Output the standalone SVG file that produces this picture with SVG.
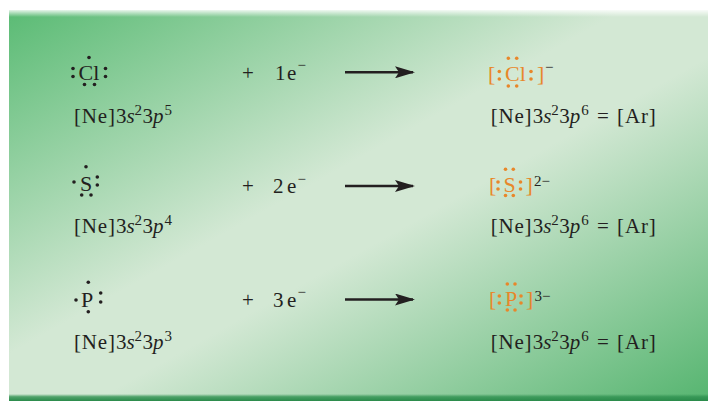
<svg xmlns="http://www.w3.org/2000/svg" width="708" height="402" viewBox="0 0 708 402">
<defs>
<linearGradient id="bg" x1="0" y1="0" x2="1" y2="1">
<stop offset="0" stop-color="#5abb74"/>
<stop offset="0.44" stop-color="#d3e8d4"/>
<stop offset="0.56" stop-color="#d3e8d4"/>
<stop offset="1" stop-color="#56b570"/>
</linearGradient>
<linearGradient id="topbev" x1="0" y1="0" x2="0" y2="1">
<stop offset="0" stop-color="#ffffff" stop-opacity="0.85"/>
<stop offset="1" stop-color="#ffffff" stop-opacity="0"/>
</linearGradient>
<linearGradient id="botbev" x1="0" y1="0" x2="0" y2="1">
<stop offset="0" stop-color="#2f9150" stop-opacity="0"/>
<stop offset="0.4" stop-color="#2f9150" stop-opacity="0.8"/>
<stop offset="1" stop-color="#2a8a4a" stop-opacity="1"/>
</linearGradient>
<marker id="ah" viewBox="0 0 20 12" refX="18" refY="6" markerWidth="20" markerHeight="12" markerUnits="userSpaceOnUse" orient="auto">
<path d="M0,0 L20,6 L0,12 L4,6 Z" fill="#231f20"/>
</marker>
</defs>
<style>
.t { font-family: "Liberation Serif", "Times New Roman", serif; font-size: 21px; fill: #231f20; }
.big { font-size: 22px; }
.i { font-style: italic; }
.sup { font-size: 15px; }
.ls { letter-spacing: 0.8px; }
.la { letter-spacing: 0.9px; }
.o { fill: #e8872a; }
.d { fill: #231f20; }
.od { fill: #e8872a; }
.arrow { stroke: #231f20; stroke-width: 2.4; fill: none; }
</style>

<rect x="9" y="10" width="699" height="391" fill="url(#bg)"/>
<rect x="9" y="10" width="699" height="7" fill="url(#topbev)"/>
<rect x="9" y="394" width="699" height="7" fill="url(#botbev)"/>

<!-- Row 1: Cl -->
<g id="cl-atom">
<text class="t big" x="78.5" y="79.5">Cl</text>
<circle class="d" cx="89" cy="57.5" r="1.8"/>
<circle class="d" cx="73" cy="68.5" r="1.8"/>
<circle class="d" cx="73" cy="76.5" r="1.8"/>
<circle class="d" cx="105.5" cy="68.5" r="1.8"/>
<circle class="d" cx="105.5" cy="76.5" r="1.8"/>
<circle class="d" cx="84.5" cy="84.5" r="1.8"/>
<circle class="d" cx="94.5" cy="84.5" r="1.8"/>
</g>
<g id="cl-config">
<text class="t" x="74" y="122.5"><tspan class="ls">[Ne]</tspan><tspan x="116">3</tspan><tspan class="i" x="126.5">s</tspan><tspan class="sup" x="134.5" y="115">2</tspan><tspan x="142.5" y="122.5">3</tspan><tspan class="i" x="153">p</tspan><tspan class="sup" x="164.5" y="115">5</tspan></text>
</g>
<g id="cl-electrons">
<text class="t" x="242" y="79.5">+ <tspan x="275">1</tspan><tspan x="287">e</tspan><tspan class="sup" x="297.5" y="70">−</tspan></text>
</g>
<g id="cl-ion">
<text class="t big o" x="488" y="81">[<tspan x="505">Cl</tspan><tspan x="537">]</tspan></text>
<circle class="od" cx="499.3" cy="71.5" r="1.8"/>
<circle class="od" cx="499.3" cy="79" r="1.8"/>
<circle class="od" cx="508.3" cy="58.3" r="1.8"/>
<circle class="od" cx="516.7" cy="58.3" r="1.8"/>
<circle class="od" cx="508.3" cy="86" r="1.8"/>
<circle class="od" cx="516.7" cy="86" r="1.8"/>
<circle class="od" cx="531" cy="71.5" r="1.8"/>
<circle class="od" cx="531" cy="79" r="1.8"/>
<text class="t sup" x="545" y="72">−</text>
</g>
<g id="cl-ion-config">
<text class="t" x="490.7" y="122.5"><tspan class="ls">[Ne]</tspan><tspan x="532.7">3</tspan><tspan class="i" x="543.2">s</tspan><tspan class="sup" x="551.2" y="115">2</tspan><tspan x="559.2" y="122.5">3</tspan><tspan class="i" x="569.7">p</tspan><tspan class="sup" x="581.2" y="115">6</tspan><tspan x="597" y="122.5">=</tspan><tspan class="la" x="617">[Ar]</tspan></text>
</g>

<!-- Row 2: S -->
<g id="s-atom">
<text class="t big" x="80" y="190.5">S</text>
<circle class="d" cx="86" cy="166.7" r="1.8"/>
<circle class="d" cx="74" cy="182" r="1.8"/>
<circle class="d" cx="97.3" cy="177" r="1.8"/>
<circle class="d" cx="97.3" cy="185" r="1.8"/>
<circle class="d" cx="81.7" cy="195" r="1.8"/>
<circle class="d" cx="91" cy="195" r="1.8"/>
</g>
<g id="s-config">
<text class="t" x="74" y="232.5"><tspan class="ls">[Ne]</tspan><tspan x="116">3</tspan><tspan class="i" x="126.5">s</tspan><tspan class="sup" x="134.5" y="225">2</tspan><tspan x="142.5" y="232.5">3</tspan><tspan class="i" x="153">p</tspan><tspan class="sup" x="164.5" y="225">4</tspan></text>
</g>
<g id="s-electrons">
<text class="t" x="242" y="193">+ <tspan x="273">2</tspan><tspan x="287">e</tspan><tspan class="sup" x="297.5" y="183.5">−</tspan></text>
</g>
<g id="s-ion">
<text class="t big o" x="489" y="191.5">[<tspan x="503.5">S</tspan><tspan x="525.5">]</tspan></text>
<circle class="od" cx="498" cy="182" r="1.8"/>
<circle class="od" cx="498" cy="189" r="1.8"/>
<circle class="od" cx="505.5" cy="169.3" r="1.8"/>
<circle class="od" cx="513.3" cy="169.3" r="1.8"/>
<circle class="od" cx="505.5" cy="195.5" r="1.8"/>
<circle class="od" cx="513.3" cy="195.5" r="1.8"/>
<circle class="od" cx="520.5" cy="182" r="1.8"/>
<circle class="od" cx="520.5" cy="189" r="1.8"/>
<text class="t sup" x="534" y="185.5">2−</text>
</g>
<g id="s-ion-config">
<text class="t" x="490.7" y="232.5"><tspan class="ls">[Ne]</tspan><tspan x="532.7">3</tspan><tspan class="i" x="543.2">s</tspan><tspan class="sup" x="551.2" y="225">2</tspan><tspan x="559.2" y="232.5">3</tspan><tspan class="i" x="569.7">p</tspan><tspan class="sup" x="581.2" y="225">6</tspan><tspan x="597" y="232.5">=</tspan><tspan class="la" x="617">[Ar]</tspan></text>
</g>

<!-- Row 3: P -->
<g id="p-atom">
<text class="t big" x="81" y="307">P</text>
<circle class="d" cx="88.3" cy="282.3" r="1.8"/>
<circle class="d" cx="76" cy="300" r="1.8"/>
<circle class="d" cx="100.7" cy="293" r="1.8"/>
<circle class="d" cx="100.7" cy="302" r="1.8"/>
<circle class="d" cx="88.3" cy="311.7" r="1.8"/>
</g>
<g id="p-config">
<text class="t" x="74" y="348.5"><tspan class="ls">[Ne]</tspan><tspan x="116">3</tspan><tspan class="i" x="126.5">s</tspan><tspan class="sup" x="134.5" y="341">2</tspan><tspan x="142.5" y="348.5">3</tspan><tspan class="i" x="153">p</tspan><tspan class="sup" x="164.5" y="341">3</tspan></text>
</g>
<g id="p-electrons">
<text class="t" x="242" y="306.5">+ <tspan x="273">3</tspan><tspan x="287">e</tspan><tspan class="sup" x="297.5" y="297">−</tspan></text>
</g>
<g id="p-ion">
<text class="t big o" x="489" y="306">[<tspan x="505">P</tspan><tspan x="526">]</tspan></text>
<circle class="od" cx="499.3" cy="296" r="1.8"/>
<circle class="od" cx="499.3" cy="303" r="1.8"/>
<circle class="od" cx="507.3" cy="284" r="1.8"/>
<circle class="od" cx="515" cy="284" r="1.8"/>
<circle class="od" cx="507.3" cy="310" r="1.8"/>
<circle class="od" cx="515" cy="310" r="1.8"/>
<circle class="od" cx="521" cy="296" r="1.8"/>
<circle class="od" cx="521" cy="303" r="1.8"/>
<text class="t sup" x="534.5" y="300.5">3−</text>
</g>
<g id="p-ion-config">
<text class="t" x="490.7" y="348.5"><tspan class="ls">[Ne]</tspan><tspan x="532.7">3</tspan><tspan class="i" x="543.2">s</tspan><tspan class="sup" x="551.2" y="341">2</tspan><tspan x="559.2" y="348.5">3</tspan><tspan class="i" x="569.7">p</tspan><tspan class="sup" x="581.2" y="341">6</tspan><tspan x="597" y="348.5">=</tspan><tspan class="la" x="617">[Ar]</tspan></text>
</g>

<g id="connectors">
<line class="arrow" x1="345" y1="72.3" x2="413" y2="72.3" marker-end="url(#ah)"/>
<line class="arrow" x1="345" y1="186" x2="413" y2="186" marker-end="url(#ah)"/>
<line class="arrow" x1="345" y1="299.5" x2="413" y2="299.5" marker-end="url(#ah)"/>
</g>
</svg>
